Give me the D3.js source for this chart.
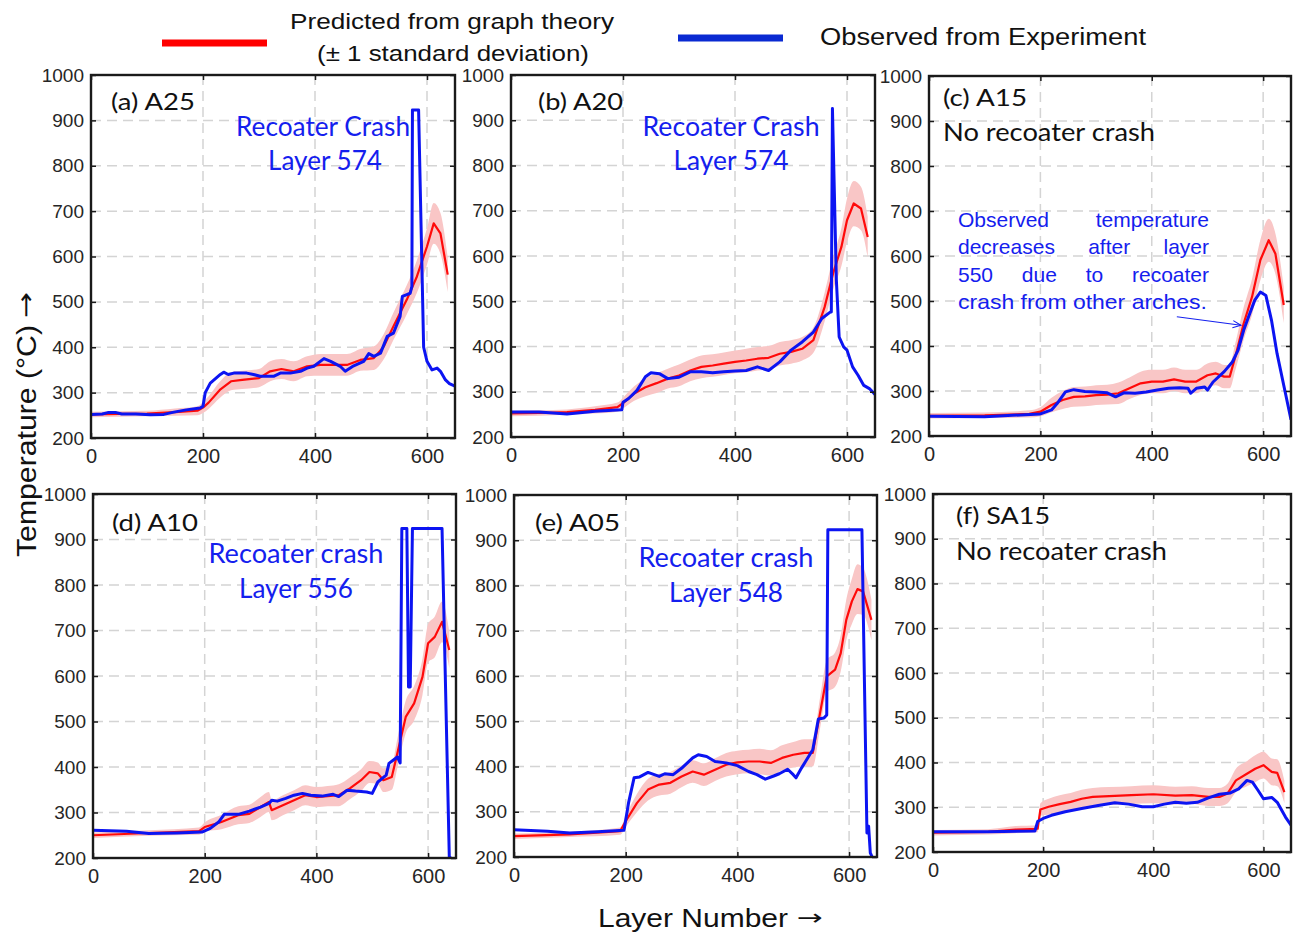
<!DOCTYPE html>
<html>
<head>
<meta charset="utf-8">
<script src="https://cdn.jsdelivr.net/npm/d3@7"></script>
<style>
  body { margin: 0; background: #fff; }
  svg { display: block; }
</style>
</head>
<body>
<svg id="chart" width="1293" height="934"></svg>
<script>
// ---------- shared axis settings ----------
const xDomain = [0, 650];
const yDomain = [200, 1000];
const xTickValues = [0, 200, 400, 600];
const yTickValues = [200, 300, 400, 500, 600, 700, 800, 900, 1000];
const panelLabels = ["(a) A25", "(b) A20", "(c) A15", "(d) A10", "(e) A05", "(f) SA15"];

// ---------- (a) A25 ----------
const a25PredLayer = [0, 50, 100, 150, 190, 200, 210, 230, 250, 270, 300, 320, 340, 362, 386, 410, 433, 457, 481, 505, 523, 540, 564, 582, 600, 612, 624, 637];
const a25PredTemp  = [252, 253, 254, 257, 260, 267, 278, 306, 325, 328, 332, 347, 352, 347, 358, 361, 361, 361, 372, 376, 402, 446, 505, 556, 622, 673, 651, 560];
const a25PredSd    = [6, 6, 6, 8, 10, 12, 14, 18, 20, 20, 20, 22, 22, 22, 22, 24, 24, 24, 24, 26, 28, 30, 32, 36, 40, 45, 45, 38];
const a25ObsLayer  = [0, 20, 30, 45, 55, 80, 106, 130, 148, 170, 195, 200, 204, 213, 231, 237, 245, 255, 278, 290, 302, 326, 338, 356, 374, 386, 398, 416, 428, 445, 454, 469, 487, 496, 505, 517, 529, 540, 552, 556, 564, 570, 573, 574, 585, 594, 600, 609, 618, 624, 633, 640, 650];
const a25ObsTemp   = [252, 253, 256, 256, 253, 253, 251, 252, 257, 262, 266, 270, 300, 321, 340, 345, 340, 343, 343, 340, 336, 336, 343, 343, 347, 354, 358, 375, 369, 358, 347, 359, 369, 386, 380, 387, 424, 431, 468, 512, 516, 519, 534, 923, 923, 400, 369, 350, 354, 347, 328, 320, 314];

// ---------- (b) A20 ----------
const a20PredLayer = [0, 50, 100, 150, 190, 200, 220, 240, 260, 280, 300, 320, 340, 360, 380, 400, 420, 440, 460, 480, 500, 520, 540, 560, 575, 590, 600, 612, 625, 637];
const a20PredTemp  = [252, 253, 255, 260, 266, 275, 296, 310, 319, 329, 336, 347, 355, 358, 362, 366, 369, 373, 375, 384, 388, 395, 414, 487, 561, 620, 679, 716, 705, 642];
const a20PredSd    = [6, 6, 6, 8, 10, 12, 16, 20, 22, 22, 24, 24, 25, 25, 25, 25, 26, 26, 26, 26, 26, 26, 28, 32, 36, 42, 48, 50, 48, 45];
const a20ObsLayer  = [0, 50, 100, 150, 198, 200, 210, 225, 240, 250, 265, 280, 300, 320, 340, 360, 380, 400, 420, 440, 460, 480, 500, 520, 540, 555, 570, 572, 574, 581, 586, 594, 600, 610, 620, 630, 640, 650];
const a20ObsTemp   = [255, 255, 251, 257, 260, 277, 285, 303, 333, 342, 340, 329, 332, 344, 344, 342, 344, 346, 347, 355, 347, 366, 392, 410, 432, 462, 476, 476, 926, 547, 421, 399, 392, 355, 336, 314, 307, 294];

// ---------- (c) A15 ----------
const a15PredLayer = [0, 100, 180, 200, 220, 240, 260, 280, 300, 320, 340, 360, 380, 400, 420, 440, 460, 480, 500, 515, 530, 540, 550, 565, 580, 595, 610, 622, 637];
const a15PredTemp  = [245, 246, 249, 254, 269, 280, 287, 288, 291, 292, 295, 306, 317, 321, 321, 326, 321, 321, 335, 339, 332, 332, 376, 450, 509, 591, 635, 605, 491];
const a15PredSd    = [6, 6, 8, 10, 16, 20, 22, 22, 22, 22, 24, 24, 26, 26, 26, 26, 26, 26, 26, 26, 26, 26, 30, 36, 40, 45, 48, 45, 40];
const a15ObsLayer  = [0, 100, 150, 200, 220, 230, 245, 260, 280, 300, 320, 335, 350, 370, 390, 410, 430, 450, 465, 470, 480, 495, 500, 510, 530, 545, 555, 565, 575, 585, 595, 605, 615, 625, 640, 650];
const a15ObsTemp   = [244, 243, 246, 249, 258, 272, 298, 303, 299, 298, 296, 287, 296, 295, 298, 302, 306, 307, 306, 295, 306, 309, 302, 320, 343, 365, 391, 435, 469, 502, 520, 512, 457, 383, 295, 236];

// ---------- (d) A10 ----------
const a10PredLayer = [0, 100, 190, 200, 230, 260, 280, 300, 315, 320, 340, 360, 380, 400, 420, 440, 460, 480, 495, 510, 520, 535, 545, 560, 575, 590, 600, 612, 625, 638];
const a10PredTemp  = [250, 255, 259, 268, 279, 294, 297, 312, 323, 305, 316, 327, 338, 334, 336, 338, 353, 371, 389, 386, 371, 378, 430, 510, 540, 598, 672, 686, 719, 657];
const a10PredSd    = [6, 6, 8, 10, 16, 20, 20, 22, 22, 22, 22, 22, 22, 22, 22, 24, 24, 24, 24, 24, 26, 28, 32, 36, 38, 40, 42, 45, 45, 40];
const a10ObsLayer  = [0, 60, 100, 150, 195, 210, 225, 235, 260, 280, 300, 315, 320, 330, 345, 360, 375, 390, 410, 430, 440, 455, 470, 490, 500, 510, 525, 530, 545, 550, 553, 562, 565, 568, 572, 625, 638, 641];
const a10ObsTemp   = [261, 259, 254, 255, 257, 265, 279, 296, 296, 303, 312, 320, 327, 325, 331, 338, 342, 338, 336, 340, 335, 349, 347, 345, 342, 367, 382, 408, 422, 409, 924, 924, 576, 576, 924, 924, 202, 200];

// ---------- (e) A05 ----------
const a05PredLayer = [0, 100, 190, 200, 220, 240, 260, 280, 300, 320, 340, 360, 380, 400, 420, 440, 460, 480, 500, 520, 535, 548, 560, 575, 585, 595, 605, 615, 625, 640];
const a05PredTemp  = [246, 250, 257, 279, 319, 349, 360, 364, 378, 389, 382, 393, 404, 409, 411, 411, 408, 419, 426, 430, 430, 518, 599, 614, 650, 724, 765, 792, 787, 724];
const a05PredSd    = [6, 6, 8, 12, 20, 24, 24, 24, 24, 25, 25, 25, 26, 26, 26, 28, 28, 28, 28, 30, 30, 34, 36, 38, 40, 45, 50, 55, 52, 45];
const a05ObsLayer  = [0, 60, 100, 150, 197, 205, 215, 225, 240, 260, 270, 285, 300, 320, 330, 345, 360, 380, 400, 420, 435, 450, 465, 475, 490, 500, 505, 515, 535, 545, 555, 560, 562, 623, 632, 635, 638, 641];
const a05ObsTemp   = [260, 257, 253, 256, 259, 319, 375, 377, 387, 378, 384, 382, 396, 419, 426, 422, 411, 408, 402, 389, 382, 372, 379, 384, 394, 382, 375, 397, 437, 505, 507, 514, 923, 923, 253, 268, 209, 201];

// ---------- (f) SA15 ----------
const sa15PredLayer = [0, 100, 150, 190, 195, 210, 230, 250, 270, 290, 320, 360, 400, 440, 470, 500, 520, 535, 550, 570, 585, 600, 615, 625, 638];
const sa15PredTemp  = [243, 245, 250, 252, 295, 301, 307, 312, 319, 323, 325, 327, 329, 326, 327, 323, 323, 331, 360, 375, 386, 394, 379, 377, 334];
const sa15PredSd    = [6, 6, 8, 8, 14, 18, 20, 20, 20, 20, 20, 20, 20, 20, 20, 20, 20, 22, 26, 28, 30, 30, 30, 30, 25];
const sa15ObsLayer  = [0, 100, 185, 190, 200, 215, 240, 270, 300, 330, 355, 380, 400, 420, 440, 460, 480, 500, 520, 540, 555, 570, 580, 590, 600, 615, 625, 640, 650];
const sa15ObsTemp   = [245, 245, 247, 268, 275, 282, 290, 297, 304, 310, 307, 301, 301, 307, 311, 309, 311, 321, 329, 332, 341, 360, 356, 338, 319, 322, 311, 278, 260];

// ---------- legend / titles ----------
const legendLabels = ["Predicted from graph theory", "(± 1 standard deviation)", "Observed from Experiment"];
const xTitle = "Layer Number";
const yTitle = "Temperature (°C)";
const titleArrow = "→";
const noteLines = [
  ["Observed", "temperature"],
  ["decreases", "after", "layer"],
  ["550", "due", "to", "recoater"],
  ["crash from other arches."]
];
// arrow from the note to the observed curve, in data units (layer, °C)
const noteArrow = { from: [445, 465], to: [560, 446] };

// ---------- styles ----------
const RED = "#ff0a0a";
const BAND = "#f9c6c6";
const BLUE = "#0c14f2";
const NOTE_BLUE = "#1420ee";
const ARIAL = "'Liberation Sans', Arial, sans-serif";
const HUMANIST = "Lato, 'Open Sans', sans-serif";
const ARROW_FONT = "'DejaVu Sans', sans-serif";

const zipPred = (l, t, s) => l.map((d, i) => ({ layer: d, temp: t[i], sd: s[i] }));
const zipObs = (l, t) => l.map((d, i) => ({ layer: d, temp: t[i] }));

const panels = [
  { box: [91, 75, 455, 438], pred: zipPred(a25PredLayer, a25PredTemp, a25PredSd), obs: zipObs(a25ObsLayer, a25ObsTemp),
    notes: [
      { text: panelLabels[0], x: 111, y: 110, size: 23, len: 84, color: "#111", anchor: "start" },
      { text: "Recoater Crash", x: 323, y: 136, size: 26, len: 174, color: NOTE_BLUE, anchor: "middle" },
      { text: "Layer 574", x: 325, y: 170, size: 26, len: 114, color: NOTE_BLUE, anchor: "middle" }
    ] },
  { box: [511, 75, 875, 437], pred: zipPred(a20PredLayer, a20PredTemp, a20PredSd), obs: zipObs(a20ObsLayer, a20ObsTemp),
    notes: [
      { text: panelLabels[1], x: 538, y: 110, size: 23, len: 85, color: "#111", anchor: "start" },
      { text: "Recoater Crash", x: 731, y: 136, size: 26, len: 177, color: NOTE_BLUE, anchor: "middle" },
      { text: "Layer 574", x: 731, y: 170, size: 26, len: 115, color: NOTE_BLUE, anchor: "middle" }
    ] },
  { box: [929, 76, 1291, 436], pred: zipPred(a15PredLayer, a15PredTemp, a15PredSd), obs: zipObs(a15ObsLayer, a15ObsTemp),
    notes: [
      { text: panelLabels[2], x: 943, y: 106, size: 23, len: 84, color: "#111", anchor: "start" },
      { text: "No recoater crash", x: 943, y: 141, size: 25, len: 212, color: "#111", anchor: "start" }
    ], justified: true },
  { box: [93, 494, 456, 858], pred: zipPred(a10PredLayer, a10PredTemp, a10PredSd), obs: zipObs(a10ObsLayer, a10ObsTemp),
    notes: [
      { text: panelLabels[3], x: 112, y: 531, size: 23, len: 86, color: "#111", anchor: "start" },
      { text: "Recoater crash", x: 296, y: 563, size: 26, len: 175, color: NOTE_BLUE, anchor: "middle" },
      { text: "Layer 556", x: 296, y: 598, size: 26, len: 114, color: NOTE_BLUE, anchor: "middle" }
    ] },
  { box: [514, 495, 877, 857], pred: zipPred(a05PredLayer, a05PredTemp, a05PredSd), obs: zipObs(a05ObsLayer, a05ObsTemp),
    notes: [
      { text: panelLabels[4], x: 535, y: 531, size: 23, len: 85, color: "#111", anchor: "start" },
      { text: "Recoater crash", x: 726, y: 567, size: 26, len: 175, color: NOTE_BLUE, anchor: "middle" },
      { text: "Layer 548", x: 726, y: 602, size: 26, len: 114, color: NOTE_BLUE, anchor: "middle" }
    ] },
  { box: [933, 494, 1291, 852], pred: zipPred(sa15PredLayer, sa15PredTemp, sa15PredSd), obs: zipObs(sa15ObsLayer, sa15ObsTemp),
    notes: [
      { text: panelLabels[5], x: 956, y: 524, size: 23, len: 94, color: "#111", anchor: "start" },
      { text: "No recoater crash", x: 956, y: 560, size: 25, len: 211, color: "#111", anchor: "start" }
    ] }
];

const svg = d3.select("#chart");
const defs = svg.append("defs");
defs.append("marker")
  .attr("id", "note-arrow").attr("viewBox", "0 0 10 10")
  .attr("refX", 9).attr("refY", 5).attr("markerWidth", 9).attr("markerHeight", 9)
  .attr("markerUnits", "userSpaceOnUse").attr("orient", "auto")
  .append("path").attr("d", "M0,1 L9,5 L0,9").attr("fill", "none")
  .attr("stroke", NOTE_BLUE).attr("stroke-width", 1.2);

const tickFmt = d3.format("d");

panels.forEach((p, idx) => {
  const [left, top, right, bottom] = p.box;
  const x = d3.scaleLinear().domain(xDomain).range([left, right]);
  const y = d3.scaleLinear().domain(yDomain).range([bottom, top]);
  const g = svg.append("g").attr("class", "panel");

  const clipId = "clip-" + idx;
  defs.append("clipPath").attr("id", clipId)
    .append("rect").attr("x", left).attr("y", top)
    .attr("width", right - left).attr("height", bottom - top);

  // dashed grid
  const grid = g.append("g").attr("stroke", "#d4d4d4").attr("stroke-width", 1.5)
    .attr("stroke-dasharray", "10,6");
  grid.selectAll(".gy").data(yTickValues.filter(v => v > yDomain[0] && v < yDomain[1]))
    .join("line").attr("x1", left).attr("x2", right)
    .attr("y1", d => y(d)).attr("y2", d => y(d));
  grid.selectAll(".gx").data(xTickValues.filter(v => v > xDomain[0]))
    .join("line").attr("y1", top).attr("y2", bottom)
    .attr("x1", d => x(d)).attr("x2", d => x(d));

  const plot = g.append("g").attr("clip-path", `url(#${clipId})`);

  // predicted ± 1 sd band
  plot.append("path").datum(p.pred)
    .attr("fill", BAND)
    .attr("d", d3.area().x(d => x(d.layer)).y0(d => y(d.temp - d.sd)).y1(d => y(d.temp + d.sd)).curve(d3.curveMonotoneX));

  // predicted mean
  plot.append("path").datum(p.pred)
    .attr("fill", "none").attr("stroke", RED).attr("stroke-width", 2.2)
    .attr("stroke-linejoin", "round")
    .attr("d", d3.line().x(d => x(d.layer)).y(d => y(d.temp)));

  // observed
  plot.append("path").datum(p.obs)
    .attr("fill", "none").attr("stroke", BLUE).attr("stroke-width", 3)
    .attr("stroke-linejoin", "round")
    .attr("d", d3.line().x(d => x(d.layer)).y(d => y(d.temp)));

  // axes with inward ticks on all four sides
  const styleAxis = sel => {
    sel.attr("font-family", ARIAL).attr("fill", null);
    sel.select(".domain").remove();
    sel.selectAll(".tick line").attr("stroke", "#1a1a1a").attr("stroke-width", 1.5);
    sel.selectAll(".tick text").attr("fill", "#262626");
  };
  g.append("g").attr("transform", `translate(${left},0)`)
    .call(d3.axisLeft(y).tickValues(yTickValues).tickFormat(tickFmt).tickSize(-5).tickPadding(7))
    .call(styleAxis).attr("font-size", 19);
  g.append("g").attr("transform", `translate(0,${bottom})`)
    .call(d3.axisBottom(x).tickValues(xTickValues).tickFormat(tickFmt).tickSize(-5).tickPadding(11))
    .call(styleAxis).attr("font-size", 20);
  g.append("g").attr("transform", `translate(${right},0)`)
    .call(d3.axisRight(y).tickValues(yTickValues).tickSize(-5).tickFormat(""))
    .call(styleAxis);
  g.append("g").attr("transform", `translate(0,${top})`)
    .call(d3.axisTop(x).tickValues(xTickValues).tickSize(-5).tickFormat(""))
    .call(styleAxis);

  // frame
  g.append("rect").attr("x", left).attr("y", top)
    .attr("width", right - left).attr("height", bottom - top)
    .attr("fill", "none").attr("stroke", "#1a1a1a").attr("stroke-width", 2.4);

  // annotations
  g.selectAll(".note").data(p.notes).join("text")
    .attr("x", d => d.x).attr("y", d => d.y)
    .attr("text-anchor", d => d.anchor)
    .attr("font-family", HUMANIST).attr("font-size", d => d.size)
    .attr("fill", d => d.color)
    .attr("textLength", d => d.len).attr("lengthAdjust", "spacingAndGlyphs")
    .text(d => d.text);

  if (p.justified) {
    const noteLeft = 958, noteRight = 1209, firstBase = 227, lineStep = 27.4;
    const block = g.append("g").attr("font-family", ARIAL).attr("font-size", 21).attr("fill", NOTE_BLUE);
    noteLines.forEach((words, li) => {
      const yy = firstBase + li * lineStep;
      const nodes = words.map(w => block.append("text").attr("y", yy).text(w));
      const widths = nodes.map(n => n.node().getComputedTextLength());
      if (words.length === 1) {
        nodes[0].attr("x", noteLeft).attr("textLength", noteRight - 2 - noteLeft).attr("lengthAdjust", "spacingAndGlyphs");
        return;
      }
      const gap = (noteRight - noteLeft - d3.sum(widths)) / (words.length - 1);
      let cx = noteLeft;
      nodes.forEach((n, i) => { n.attr("x", cx); cx += widths[i] + gap; });
    });
    g.append("line")
      .attr("x1", x(noteArrow.from[0])).attr("y1", y(noteArrow.from[1]))
      .attr("x2", x(noteArrow.to[0])).attr("y2", y(noteArrow.to[1]))
      .attr("stroke", NOTE_BLUE).attr("stroke-width", 1.1)
      .attr("marker-end", "url(#note-arrow)");
  }
});

// ---------- legend ----------
const legend = svg.append("g").attr("font-family", ARIAL).attr("fill", "#111");
legend.append("line").attr("x1", 162).attr("x2", 267).attr("y1", 43).attr("y2", 43)
  .attr("stroke", "#ff0000").attr("stroke-width", 7);
legend.append("line").attr("x1", 678).attr("x2", 783).attr("y1", 38).attr("y2", 38)
  .attr("stroke", "#0a2ad2").attr("stroke-width", 7);
legend.append("text").attr("x", 290).attr("y", 29).attr("font-size", 22)
  .attr("textLength", 324).attr("lengthAdjust", "spacingAndGlyphs").text(legendLabels[0]);
legend.append("text").attr("x", 317).attr("y", 61).attr("font-size", 22)
  .attr("textLength", 272).attr("lengthAdjust", "spacingAndGlyphs").text(legendLabels[1]);
legend.append("text").attr("x", 820).attr("y", 45).attr("font-size", 23)
  .attr("textLength", 326).attr("lengthAdjust", "spacingAndGlyphs").text(legendLabels[2]);

// ---------- axis titles ----------
const titleStyle = t => t.attr("font-family", ARIAL).attr("fill", "#111");
svg.append("text").attr("x", 598).attr("y", 927).attr("font-size", 25).call(titleStyle)
  .attr("textLength", 190).attr("lengthAdjust", "spacingAndGlyphs").text(xTitle);
svg.append("text").attr("x", 797).attr("y", 925).attr("font-size", 22)
  .attr("font-family", ARROW_FONT).attr("fill", "#111")
  .attr("textLength", 26).attr("lengthAdjust", "spacingAndGlyphs").text(titleArrow);

svg.append("text").attr("transform", "translate(36,557) rotate(-90)").attr("font-size", 27).call(titleStyle)
  .attr("textLength", 232).attr("lengthAdjust", "spacingAndGlyphs").text(yTitle);
svg.append("text").attr("transform", "translate(34,318) rotate(-90)").attr("font-size", 24)
  .attr("font-family", ARROW_FONT).attr("fill", "#111")
  .attr("textLength", 26).attr("lengthAdjust", "spacingAndGlyphs").text(titleArrow);
</script>
</body>
</html>
